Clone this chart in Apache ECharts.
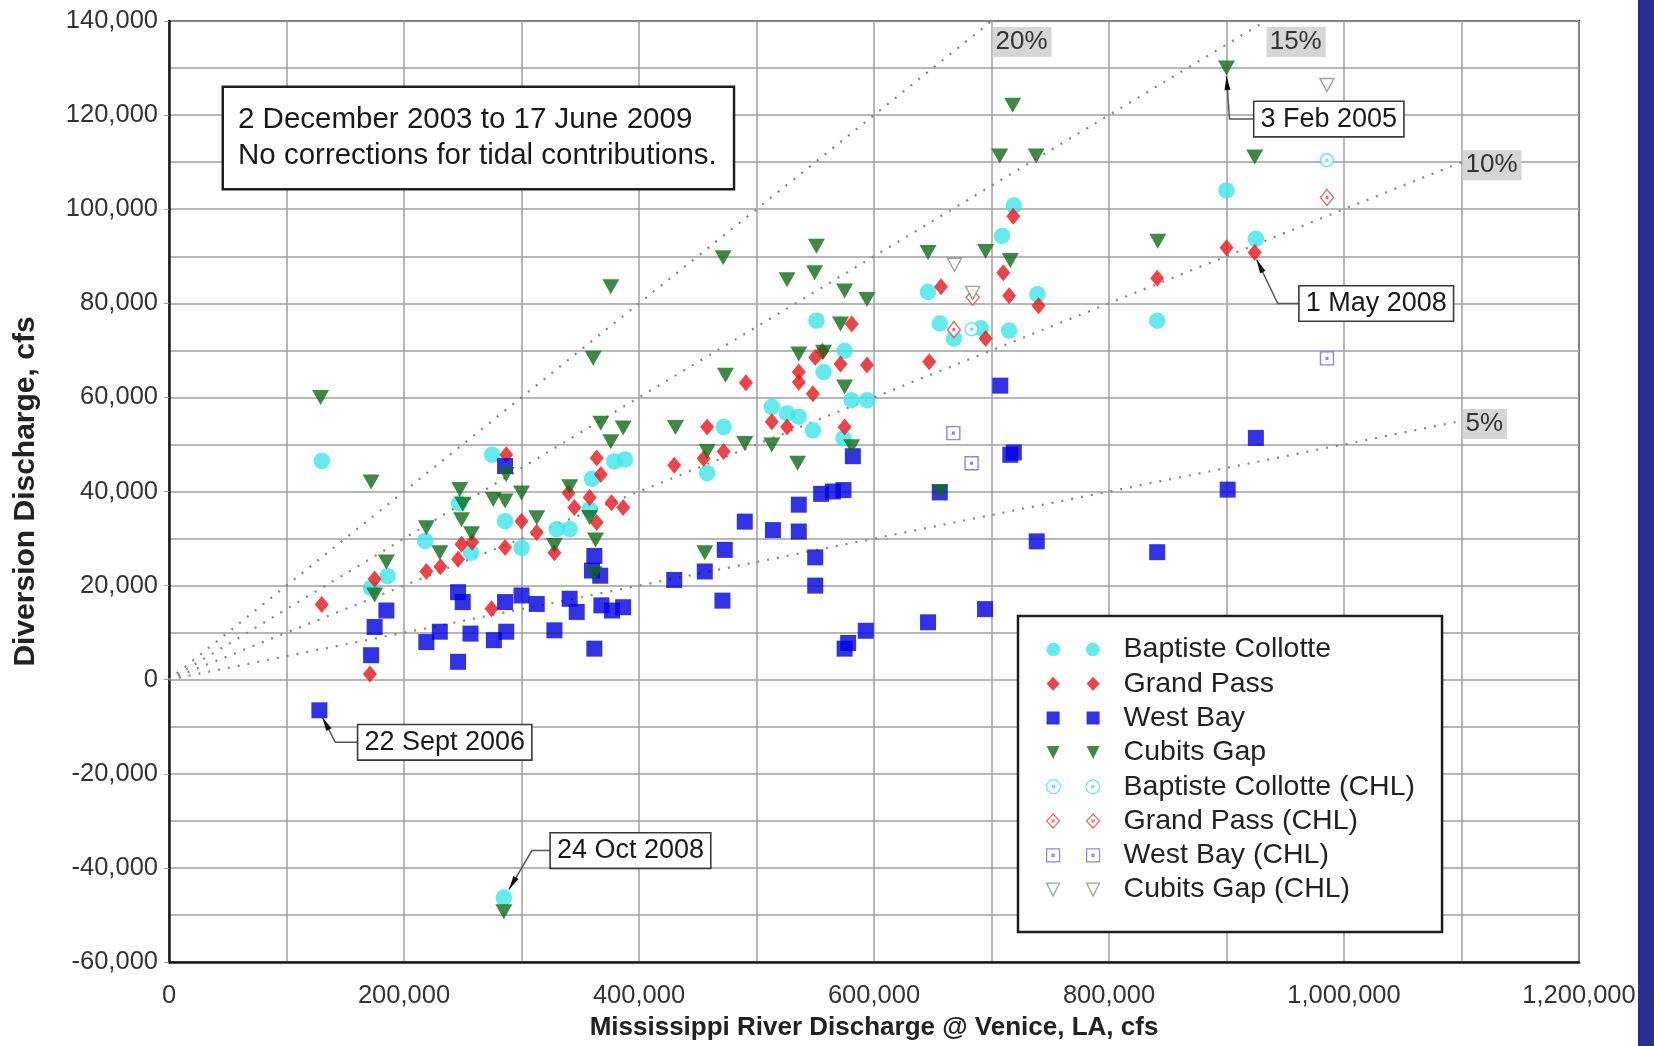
<!DOCTYPE html>
<html>
<head>
<meta charset="utf-8">
<title>Diversion Discharge vs Mississippi River Discharge</title>
<script src="https://cdn.jsdelivr.net/npm/echarts@6/dist/echarts.min.js"></script>
<style>
  html, body { margin: 0; padding: 0; background: #fff; }
  #chart { width: 1654px; height: 1046px; }
</style>
</head>
<body>
<div id="chart"></div>
<script>
const FONT = '"Liberation Sans", Arial, sans-serif';

// Mississippi River discharge (x, cfs) vs diversion discharge (y, cfs)
const baptisteCollotte = [
  [130000, 46500], [172000, 19500], [186000, 22000], [218000, 29500], [247000, 37500],
  [257000, 27000], [275000, 47800], [286000, 33700], [300000, 28000], [330000, 32000],
  [341000, 32000], [358000, 36200], [360000, 42700], [379000, 46400], [388000, 46800],
  [458000, 43900], [472000, 53700], [513000, 58000], [526000, 56600], [536000, 55900],
  [548000, 53000], [551000, 76300], [557000, 65400], [574000, 51300], [575000, 69900],
  [581000, 59400], [594000, 59400], [646000, 82400], [656000, 75700], [668000, 72500],
  [691000, 74700], [709000, 94300], [719000, 100800], [715000, 74200], [739000, 81900],
  [841000, 76300], [900000, 104000], [925000, 93700], [285000, -46300]
];
const grandPass = [
  [130000, 16000], [171000, 1200], [175000, 21400], [219000, 23000], [231000, 24000],
  [246000, 25600], [249000, 28800], [258000, 29200], [274500, 15100], [286000, 28100],
  [287000, 47800], [300000, 33700], [313000, 31300], [328000, 27000], [340000, 39700],
  [345000, 36600], [358000, 38700], [364000, 33400], [364000, 47100], [367500, 43600],
  [376600, 37600], [386500, 36600], [430000, 45600], [455000, 47000], [458000, 53700],
  [472000, 48500], [491000, 63100], [513000, 54800], [526000, 53700], [536000, 65400],
  [536000, 63200], [548000, 60800], [550000, 68500], [556000, 69800], [571500, 67100],
  [575000, 53700], [581000, 75600], [594000, 66900], [647000, 67600], [657000, 83500],
  [695000, 72500], [710000, 86500], [715000, 81600], [718500, 98500], [740000, 79500],
  [841000, 85300], [900000, 91800], [924000, 90800]
];
const westBay = [
  [128000, -6500], [172000, 5200], [175000, 11200], [185000, 14700], [219000, 8000],
  [230500, 10200], [246000, 18600], [250000, 16500], [246000, 3800], [256600, 9800],
  [276500, 8400], [287000, 10200], [286000, 45400], [286000, 16500], [300000, 17900],
  [313000, 16100], [328000, 10500], [341000, 17200], [347000, 14400], [362000, 26300],
  [360000, 23200], [367000, 22100], [368000, 15800], [377000, 14700], [386500, 15400],
  [362000, 6600], [430000, 21200], [456000, 23000], [471000, 16800], [473000, 27600],
  [490000, 33600], [514000, 31800], [536000, 37200], [536000, 31500], [550000, 26000],
  [550000, 20000], [555000, 39500], [565000, 40000], [574000, 40300], [575000, 6600],
  [578000, 7800], [582000, 47500], [593000, 10400], [646000, 12200], [656000, 39800],
  [694500, 15000], [707500, 62500], [716000, 47800], [719000, 48300], [738500, 29400],
  [841000, 27100], [901000, 40400], [925000, 51400]
];
const cubitsGap = [
  [129000, 60000], [172000, 42000], [175000, 18000], [185000, 25000], [219000, 32300],
  [230500, 27000], [247500, 40400], [250000, 37300], [249000, 34000], [257500, 31000],
  [276000, 38300], [286000, 38000], [287000, 43600], [300000, 39700], [313000, 34400],
  [328000, 28500], [341000, 41000], [358000, 34500], [363000, 29700], [362000, 22500],
  [361000, 68300], [367500, 54500], [376000, 50600], [386500, 53500], [376000, 83500],
  [431000, 53600], [456000, 27000], [458000, 48500], [471600, 89700], [473600, 64700],
  [490000, 50200], [513000, 49900], [526000, 85000], [535000, 46000], [536000, 69200],
  [549500, 86500], [551000, 92100], [557000, 69600], [571500, 75600], [575000, 82600],
  [575000, 62200], [581000, 49500], [594000, 80800], [646000, 90800], [656000, 40000],
  [695000, 91000], [707000, 111300], [716000, 89100], [718000, 122100], [738000, 111300],
  [841500, 93200], [900000, 130000], [924000, 111100], [285000, -49300]
];
const baptisteCollotteCHL = [[683000, 74500], [985500, 110400]];
const grandPassCHL = [[668000, 74400], [684000, 81300], [985500, 102500]];
const westBayCHL = [[667500, 52400], [683000, 46000], [985500, 68300]];
const cubitsGapCHL = [[668500, 88200], [684000, 82200], [985500, 126400]];

// diversion share reference lines (percent of river flow), drawn from the origin
const ratioPercents = [20, 15, 10, 5];
const ratioEndX = [700000, 933333, 1100000, 1100000];

const xTicks = { min: 0, max: 1200000, step: 200000 };
const yTicks = { min: -60000, max: 140000, step: 20000 };

const callouts = [
  { text: '3 Feb 2005', at: [900000, 130000] },
  { text: '1 May 2008', at: [924000, 90800] },
  { text: '22 Sept 2006', at: [128000, -6500] },
  { text: '24 Oct 2008', at: [285000, -46300] }
];

const chart = echarts.init(document.getElementById('chart'));
const fmt = v => String(v).replace(/\B(?=(\d{3})+(?!\d))/g, ',');
const grid = { color: '#a0a0a0', width: 1.5 };

// two markers side by side, like the spreadsheet legend
const P = {
  circle: 'M6.5,0A7,7,0,1,1,6.5,14A7,7,0,1,1,6.5,0ZM46.5,0A7,7,0,1,1,46.5,14A7,7,0,1,1,46.5,0Z',
  diamond: 'M6.5,0L13,7L6.5,14L0,7ZM46.5,0L53,7L46.5,14L40,7Z',
  square: 'M0,0.5L13,0.5L13,13.5L0,13.5ZM40,0.5L53,0.5L53,13.5L40,13.5Z',
  tri: 'M0,0L13,0L6.5,13ZM40,0L53,0L46.5,13Z',
  dots: 'M5.5,6L7.5,6L7.5,8L5.5,8ZM45.5,6L47.5,6L47.5,8L45.5,8Z'
};

const seriesDefs = [
  { name: 'Baptiste Collotte', data: baptisteCollotte, symbol: 'circle', size: 16.5, color: '#3ee6ea', icon: P.circle },
  { name: 'Grand Pass', data: grandPass, symbol: 'diamond', size: [14, 17], color: '#e5181c', icon: P.diamond },
  { name: 'West Bay', data: westBay, symbol: 'rect', size: 16, color: '#0000e0', icon: P.square },
  { name: 'Cubits Gap', data: cubitsGap, symbol: 'path://M0,0L14,0L7,13Z', size: [17, 15], color: '#0f6a17', icon: P.tri },
  { name: 'Baptiste Collotte (CHL)', data: baptisteCollotteCHL, open: true, color: '#4cdcec', size: 13,
    symbol: 'path://M0,-6A6,6,0,1,1,0,6A6,6,0,1,1,0,-6ZM-0.8,-0.8L0.8,-0.8L0.8,0.8L-0.8,0.8Z', icon: P.circle + P.dots },
  { name: 'Grand Pass (CHL)', data: grandPassCHL, open: true, color: '#d4484c', size: [13, 16],
    symbol: 'path://M0,-7L6,0L0,7L-6,0ZM-0.8,-0.8L0.8,-0.8L0.8,0.8L-0.8,0.8Z', icon: P.diamond + P.dots },
  { name: 'West Bay (CHL)', data: westBayCHL, open: true, color: '#6a6acc', size: 13,
    symbol: 'path://M-6,-6L6,-6L6,6L-6,6ZM-0.8,-0.8L0.8,-0.8L0.8,0.8L-0.8,0.8Z', icon: P.square + P.dots },
  { name: 'Cubits Gap (CHL)', data: cubitsGapCHL, open: true, color: '#6e9a6e', size: [14, 13],
    symbol: 'path://M0,0L14,0L7,12Z', icon: P.tri }
];

const ratioSeries = ratioPercents.map((p, i) => ({
  type: 'line',
  name: p + '%',
  data: [[0, 0], [ratioEndX[i], ratioEndX[i] * p / 100]],
  showSymbol: false,
  silent: true,
  z: 1,
  lineStyle: { color: '#858585', width: 2.2, type: [2, 8] },
  endLabel: {
    show: true,
    formatter: p + '%',
    fontSize: 26,
    fontFamily: FONT,
    color: '#333',
    backgroundColor: '#d6d6d6',
    padding: [3, 4, 1, 3],
    distance: 1,
    offset: p >= 15 ? [0, 21] : [0, 3]
  }
}));

const scatterSeries = seriesDefs.map((s, i) => ({
  type: 'scatter',
  name: s.name,
  data: s.data,
  symbol: s.symbol,
  symbolSize: s.size,
  z: 3 + i,
  itemStyle: s.open
    ? { color: '#fff', borderColor: s.color, borderWidth: 1.4 }
    : { color: s.color }
}));

chart.setOption({
  animation: false,
  backgroundColor: '#fff',
  textStyle: { fontFamily: FONT },
  grid: { left: 169, right: 75, top: 21, bottom: 83, show: true, borderColor: '#2a2a2a', borderWidth: 2 },
  xAxis: {
    type: 'value', min: xTicks.min, max: xTicks.max, interval: xTicks.step,
    name: 'Mississippi River Discharge @ Venice, LA, cfs',
    nameLocation: 'middle', nameGap: 53,
    nameTextStyle: { fontSize: 26, fontWeight: 'bold', color: '#222', fontFamily: FONT },
    axisLine: { onZero: false, lineStyle: { color: '#1a1a1a', width: 2.5 } },
    axisTick: { show: false },
    axisLabel: { fontSize: 25.5, color: '#333', margin: 21, formatter: fmt, fontFamily: FONT },
    splitLine: { lineStyle: grid },
    minorTick: { show: false, splitNumber: 2 },
    minorSplitLine: { show: true, lineStyle: grid }
  },
  yAxis: {
    type: 'value', min: yTicks.min, max: yTicks.max, interval: yTicks.step,
    name: 'Diversion Discharge, cfs',
    nameLocation: 'middle', nameGap: 128,
    nameTextStyle: { fontSize: 30, fontWeight: 'bold', color: '#222', fontFamily: FONT },
    axisLine: { onZero: false, lineStyle: { color: '#1a1a1a', width: 2.5 } },
    axisTick: { show: true, length: 5, lineStyle: { color: '#999' } },
    axisLabel: { fontSize: 25.5, color: '#333', margin: 11, formatter: fmt, fontFamily: FONT },
    splitLine: { lineStyle: grid },
    minorTick: { show: false, splitNumber: 2 },
    minorSplitLine: { show: true, lineStyle: grid }
  },
  legend: {
    orient: 'vertical', left: 1018, top: 616,
    padding: [19, 27, 28, 28],
    itemWidth: 53, itemHeight: 14, itemGap: 5.3,
    backgroundColor: '#fff', borderColor: '#1e1e1e', borderWidth: 2.5,
    selectedMode: false,
    textStyle: { fontSize: 28.5, color: '#222', lineHeight: 26, padding: [0, 0, 0, 19], fontFamily: FONT },
    data: seriesDefs.map(s => ({
      name: s.name,
      icon: 'path://' + s.icon,
      itemStyle: s.open
        ? { color: '#fff', borderColor: s.color, borderWidth: 1.2 }
        : { color: s.color, borderWidth: 0 }
    }))
  },
  series: [...ratioSeries, ...scatterSeries]
});

// annotation boxes and leaders, anchored to their data points
const leaders = [
  { lead: [[0, 8], [3, 51]], box: 28 },
  { lead: [[2, 7], [23, 51]], box: 45 },
  { lead: [[3, 7], [16, 32]], box: 39 },
  { lead: [[5, -8], [28, -47]], box: 47 }
];
const graphics = [];
callouts.forEach((c, i) => {
  const [x, y] = chart.convertToPixel({ gridIndex: 0 }, c.at);
  const L = leaders[i];
  const s = [x + L.lead[0][0], y + L.lead[0][1]];
  const e = [x + L.lead[1][0], y + L.lead[1][1]];
  const bx = x + L.box;
  graphics.push({
    type: 'polyline', z: 20,
    shape: { points: [s, e, [bx, e[1]]] },
    style: { stroke: '#555', lineWidth: 1.5, fill: null }
  });
  const dx = e[0] - s[0], dy = e[1] - s[1];
  const len = Math.sqrt(dx * dx + dy * dy);
  const ux = dx / len, uy = dy / len;
  graphics.push({
    type: 'polygon', z: 21,
    shape: { points: [s, [s[0] + ux * 14 - uy * 3, s[1] + uy * 14 + ux * 3], [s[0] + ux * 14 + uy * 3, s[1] + uy * 14 - ux * 3]] },
    style: { fill: '#111' }
  });
  graphics.push({
    type: 'text', z: 22, x: bx, y: e[1],
    style: {
      text: c.text, fontSize: 27, fontFamily: FONT, fill: '#1a1a1a',
      backgroundColor: '#fff', borderColor: '#3a3a3a', borderWidth: 1.6,
      padding: [4, 6, 3, 6], align: 'left', verticalAlign: 'middle'
    }
  });
});
graphics.push({
  type: 'text', z: 22, x: 224, y: 88,
  style: {
    text: '2 December 2003 to 17 June 2009\nNo corrections for tidal contributions.',
    fontSize: 29.5, lineHeight: 36, fontFamily: FONT, fill: '#1a1a1a',
    backgroundColor: '#fff', borderColor: '#1e1e1e', borderWidth: 2.5,
    padding: [14, 16, 14, 14], align: 'left', verticalAlign: 'top'
  }
});
graphics.push({
  type: 'rect', z: 22,
  shape: { x: 1638, y: 0, width: 16, height: 1046 },
  style: { fill: '#2b2e8c' }
});
chart.setOption({ graphic: graphics });
</script>
</body>
</html>
